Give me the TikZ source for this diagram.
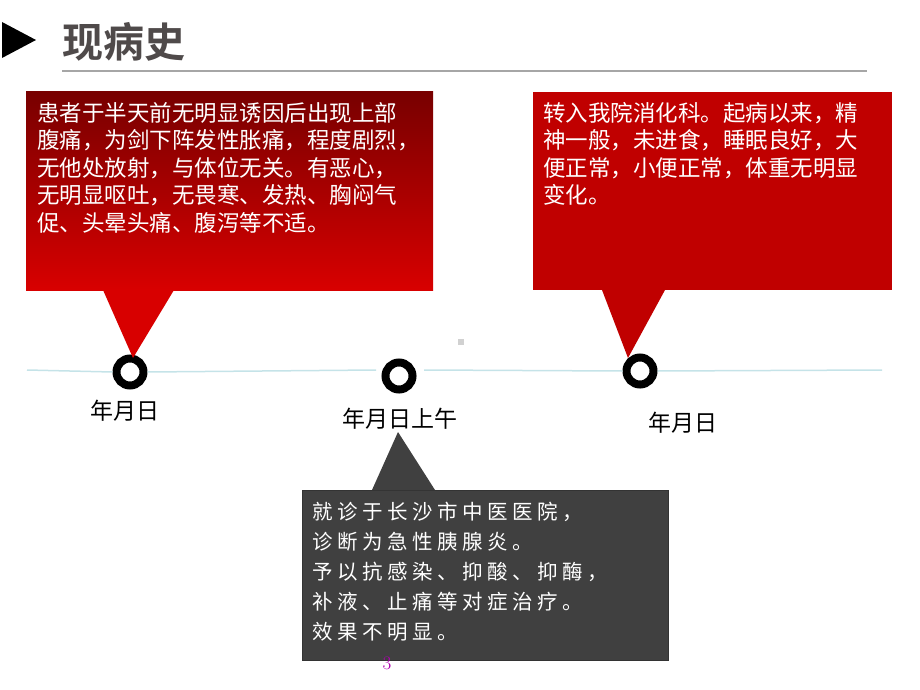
\documentclass[tikz,border=0pt]{standalone}
\usepackage{fontspec}
\newfontfamily\cjk{Noto Sans CJK SC}
\newfontfamily\cjkbold{Noto Sans CJK SC Bold}
\newfontfamily\cjkwide[LetterSpace=22]{Noto Sans CJK SC}
\usetikzlibrary{positioning}

\definecolor{redtop}{HTML}{780000}
\definecolor{redbot}{HTML}{D80000}
\definecolor{redflat}{HTML}{C00000}
\definecolor{boxgray}{HTML}{404040}
\definecolor{titlegray}{HTML}{4F4A4A}
\definecolor{rulegray}{HTML}{A6A6A6}
\definecolor{axiscyan}{HTML}{C5E3E8}
\definecolor{pagemag}{HTML}{B000B0}

\tikzset{
  box/.style={anchor=north west, inner sep=0pt, outer sep=0pt},
  boxtext/.style={anchor=north west, inner sep=0pt, align=left, text=white,
    font=\cjk\fontsize{22.5}{27.5}\selectfont},
  ring/.style={circle, draw=black, fill=white, line width=8pt, minimum size=27pt, inner sep=0pt},
  datelabel/.style={font=\cjk\fontsize{23}{26}\selectfont, inner sep=0pt}
}

\begin{document}
\begin{tikzpicture}[x=1pt,y=-1pt]
	\useasboundingbox (0,0) rectangle (920,690);
	% title
	\fill[black] (2,22) -- (36,40) -- (2,58) -- cycle;
	\node[anchor=west, inner sep=0pt, text=titlegray, font=\cjkbold\fontsize{41}{44}\selectfont] (title) at (62,42) {现病史};
	\coordinate (ruleA) at (62,71);
	\coordinate (ruleB) at (867,71);
	\draw[rulegray, line width=2pt] (ruleA) -- (ruleB);

	% timeline
	\coordinate (axisA) at (27,370);
	\coordinate (axisB) at (882,370);
	\node[ring] (ring1) at (130,372) {};
	\node[ring] (ring2) at (399,376) {};
	\node[ring] (ring3) at (640,371) {};
	\draw[axiscyan, line width=1.5pt] (axisA) -- (ring1.west);
	\draw[axiscyan, line width=1.5pt] (ring1.east) -- (376,370);
	\draw[axiscyan, line width=1.5pt] (424,370) -- (ring3.west);
	\draw[axiscyan, line width=1.5pt] (ring3.east) -- (axisB);
	\fill[black!18] (458,339) rectangle (464,345);

	% first box
	\node[box, minimum width=407pt, minimum height=198pt, top color=redtop, bottom color=redbot] (hist) at (26,92) {};
	\fill[redbot] ([xshift=77pt]hist.south west) -- ([xshift=148pt]hist.south west) -- ([shift={(3,-14)}]ring1.center) -- cycle;
	\node[boxtext] (histtxt) at ([shift={(11,10)}]hist.north west)
		{患者于半天前无明显诱因后出现上部\\腹痛，为剑下阵发性胀痛，程度剧烈，\\无他处放射，与体位无关。有恶心，\\无明显呕吐，无畏寒、发热、胸闷气\\促、头晕头痛、腹泻等不适。};

	% second box
	\node[box, minimum width=366pt, minimum height=170pt, fill=boxgray, draw=black!80, line width=0.8pt] (visit) at (302,490) {};
	\fill[boxgray] ([xshift=70pt]visit.north west) -- ([xshift=133pt]visit.north west) -- (398,432) -- cycle;
	\node[boxtext, font=\cjkwide\fontsize{20.5}{30}\selectfont] (visittxt) at ([shift={(10,12)}]visit.north west)
		{就诊于长沙市中医医院，\\诊断为急性胰腺炎。\\予以抗感染、抑酸、抑酶，\\补液、止痛等对症治疗。\\效果不明显。};

	% third box
	\node[box, minimum width=359pt, minimum height=198pt, fill=redflat] (ward) at (533,92) {};
	\fill[redflat] ([xshift=69pt]ward.south west) -- ([xshift=132pt]ward.south west) -- ([shift={(-12,-13)}]ring3.center) -- cycle;
	\node[boxtext] (wardtxt) at ([shift={(10,10)}]ward.north west)
		{转入我院消化科。起病以来，精\\神一般，未进食，睡眠良好，大\\便正常，小便正常，体重无明显\\变化。};

	% dates
	\node[datelabel] (date1) at (125,411) {年月日};
	\node[datelabel] (date2) at (400,419) {年月日上午};
	\node[datelabel] (date3) at (683,423) {年月日};

	\node[text=pagemag, font=\fontsize{19}{21}\selectfont, inner sep=0pt] (page) at (387,663) {3};
\end{tikzpicture}
\end{document}
